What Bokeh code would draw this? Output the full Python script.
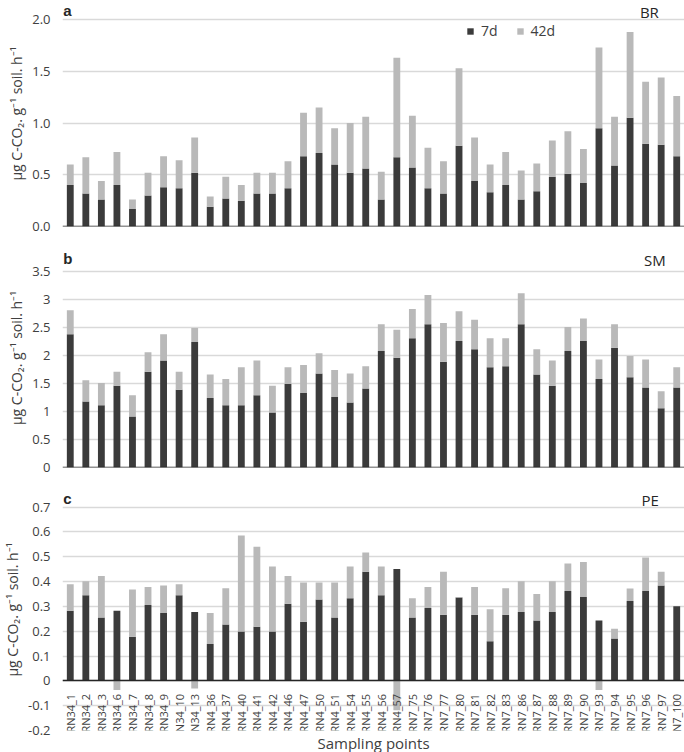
import numpy as np
from bokeh.plotting import figure
from bokeh.layouts import column
from bokeh.models import (FactorRange, Range1d, FixedTicker, NumeralTickFormatter,
                          Legend, LegendItem, Label, Title, ColumnDataSource, Span)
from bokeh.embed import file_html
from bokeh.resources import INLINE

# ---------------- data ----------------
points = ["RN34_1", "RN34_2", "RN34_3", "RN34_6", "RN34_7", "RN34_8", "RN34_9", "RN34_10",
          "RN34_13", "RN4_36", "RN4_37", "RN4_40", "RN4_41", "RN4_42", "RN4_46", "RN4_47",
          "RN4_50", "RN4_51", "RN4_54", "RN4_55", "RN4_56", "RN4_57", "RN7_75", "RN7_76",
          "RN7_77", "RN7_80", "RN7_81", "RN7_82", "RN7_83", "RN7_86", "RN7_87", "RN7_88",
          "RN7_89", "RN7_90", "RN7_93", "RN7_94", "RN7_95", "RN7_96", "RN7_97", "RN7_100"]

series_names = ["7d", "42d"]

br_7d = [0.40, 0.32, 0.26, 0.40, 0.17, 0.30, 0.38, 0.37, 0.52, 0.19, 0.27, 0.25, 0.32, 0.32,
         0.37, 0.68, 0.71, 0.60, 0.52, 0.56, 0.26, 0.67, 0.57, 0.37, 0.32, 0.78, 0.44, 0.33,
         0.40, 0.26, 0.34, 0.48, 0.51, 0.42, 0.95, 0.59, 1.05, 0.80, 0.79, 0.68]
br_42d = [0.20, 0.35, 0.18, 0.32, 0.09, 0.22, 0.30, 0.27, 0.34, 0.10, 0.21, 0.15, 0.20, 0.20,
          0.26, 0.42, 0.44, 0.35, 0.48, 0.50, 0.27, 0.96, 0.50, 0.39, 0.31, 0.75, 0.42, 0.27,
          0.32, 0.28, 0.27, 0.35, 0.41, 0.33, 0.78, 0.47, 0.83, 0.60, 0.65, 0.58]

sm_7d = [2.38, 1.18, 1.11, 1.46, 0.91, 1.71, 1.91, 1.39, 2.24, 1.24, 1.11, 1.11, 1.29, 0.98,
         1.49, 1.33, 1.68, 1.26, 1.16, 1.41, 2.08, 1.96, 2.31, 2.56, 1.89, 2.26, 2.11, 1.79,
         1.81, 2.56, 1.66, 1.46, 2.08, 2.26, 1.58, 2.14, 1.61, 1.43, 1.06, 1.43]
sm_42d = [0.43, 0.38, 0.40, 0.25, 0.38, 0.35, 0.47, 0.32, 0.25, 0.42, 0.47, 0.68, 0.62, 0.48,
          0.30, 0.50, 0.36, 0.48, 0.52, 0.40, 0.48, 0.50, 0.52, 0.52, 0.69, 0.53, 0.53, 0.52,
          0.50, 0.55, 0.45, 0.45, 0.43, 0.40, 0.35, 0.42, 0.38, 0.50, 0.30, 0.36]

pe_7d = [0.282, 0.345, 0.255, 0.282, 0.178, 0.306, 0.273, 0.345, 0.277, 0.148, 0.227, 0.199,
         0.218, 0.199, 0.311, 0.238, 0.328, 0.255, 0.333, 0.440, 0.345, 0.451, 0.255, 0.294,
         0.266, 0.336, 0.266, 0.160, 0.266, 0.277, 0.243, 0.277, 0.362, 0.338, 0.243, 0.171,
         0.322, 0.362, 0.384, 0.301]
pe_42d = [0.107, 0.056, 0.167, -0.037, 0.190, 0.072, 0.111, 0.044, -0.031, 0.125, 0.146, 0.387,
          0.322, 0.262, 0.111, 0.158, 0.068, 0.141, 0.128, 0.077, 0.116, -0.118, 0.078, 0.084,
          0.174, 0.002, 0.112, 0.129, 0.107, 0.124, 0.107, 0.124, 0.111, 0.141, -0.037, 0.039,
          0.050, 0.135, 0.056, 0.000]

br_ticks = [0.0, 0.5, 1.0, 1.5, 2.0]
sm_ticks = [0.0, 0.5, 1.0, 1.5, 2.0, 2.5, 3.0, 3.5]
pe_ticks = [-0.2, -0.1, 0.0, 0.1, 0.2, 0.3, 0.4, 0.5, 0.6, 0.7]

y_title = "μg C-CO₂. g⁻¹ soil. h⁻¹"
x_title = "Sampling points"

# ---------------- style ----------------
DARK = "#3b3b3b"
LIGHT = "#b9b9b9"
GRID = "#d9d9d9"
TXT = "#404040"
FONT = "Open Sans"
W = 684
LEFT = 53


def panel(letter, code, d7, d42, ticks, y0, y1, height, top, bottom, fmt,
          code_x, bottom_axis=False, legend_loc=None):
    p = figure(x_range=FactorRange(*points), y_range=Range1d(y0, y1),
               width=W, height=height, output_backend="svg", toolbar_location=None,
               min_border_left=LEFT, min_border_right=0,
               min_border_top=top, min_border_bottom=bottom)
    d7 = np.asarray(d7, dtype=float)
    d42 = np.asarray(d42, dtype=float)
    base = np.where(d42 >= 0, d7, 0.0)
    src = ColumnDataSource(dict(x=points, d7=d7, b42=base, t42=base + d42))
    r1 = p.vbar(x="x", top="d7", bottom=0, width=0.44, source=src,
                fill_color=DARK, line_color=None)
    r2 = p.vbar(x="x", top="t42", bottom="b42", width=0.44, source=src,
                fill_color=LIGHT, line_color=None)

    p.outline_line_color = None
    p.xgrid.grid_line_color = None
    p.ygrid.grid_line_color = GRID
    p.ygrid.grid_line_width = 1.3
    p.ygrid.ticker = FixedTicker(ticks=ticks)

    ya = p.yaxis[0]
    ya.ticker = FixedTicker(ticks=ticks)
    ya.formatter = NumeralTickFormatter(format=fmt)
    ya.axis_line_color = None
    ya.major_tick_line_color = None
    ya.minor_tick_line_color = None
    ya.major_label_text_font = FONT
    ya.major_label_text_font_size = "13px"
    ya.major_label_text_color = TXT
    ya.major_label_standoff = 6
    ya.axis_label = y_title
    ya.axis_label_text_font = FONT
    ya.axis_label_text_font_size = "14px"
    ya.axis_label_text_font_style = "normal"
    ya.axis_label_text_color = TXT
    ya.axis_label_standoff = 3

    xa = p.xaxis[0]
    if bottom_axis:
        xa.fixed_location = 0
        xa.axis_line_color = "#262626"
        xa.axis_line_width = 1.5
        xa.major_tick_line_color = None
        xa.minor_tick_line_color = None
        xa.major_label_orientation = np.pi / 2
        xa.major_label_standoff = 7
        xa.major_label_text_font = FONT
        xa.major_label_text_font_size = "11px"
        xa.major_label_text_color = TXT
        p.add_layout(Title(text=x_title, align="center", text_font=FONT,
                           text_font_size="15px", text_font_style="normal",
                           text_color=TXT, standoff=0, offset=0), "below")
    else:
        xa.visible = False
        p.add_layout(Span(location=y0, dimension="width", line_color="#262626",
                          line_width=1.5))

    p.add_layout(Label(x=0.05, y=y1, text=letter, text_baseline="top", y_offset=-1,
                       text_font="Liberation Sans", text_font_size="15px",
                       text_font_style="bold", text_color="#262626"))
    p.add_layout(Label(x=code_x, y=y1, text=code, text_baseline="top", text_align="right",
                       y_offset=-1, text_font=FONT, text_font_size="15px",
                       text_color="#262626"))

    if legend_loc is not None:
        leg = Legend(items=[LegendItem(label=series_names[0], renderers=[r1]),
                            LegendItem(label=series_names[1], renderers=[r2])],
                     orientation="horizontal", location=legend_loc,
                     border_line_color=None, background_fill_alpha=0,
                     padding=0, margin=0, spacing=18, label_standoff=7,
                     label_width=10, glyph_width=8, glyph_height=8,
                     label_text_font=FONT, label_text_font_size="14px",
                     label_text_color=TXT)
        p.add_layout(leg)
    return p


pa = panel("a", "BR", br_7d, br_42d, br_ticks, 0.0, 2.184, 248, 0, 22, "0.0",
           38.35, legend_loc=(404, 186))
pb = panel("b", "SM", sm_7d, sm_42d, sm_ticks, 0.0, 3.911, 240, 0, 21, "0.[0]",
           38.8)
pc = panel("c", "PE", pe_7d, pe_42d, pe_ticks, -0.2, 0.775, 264, 0, 21, "0.[0]",
           38.35, bottom_axis=True)

layout = column(pa, pb, pc, spacing=0)

with open("out.html", "w") as f:
    f.write(file_html(layout, INLINE))
